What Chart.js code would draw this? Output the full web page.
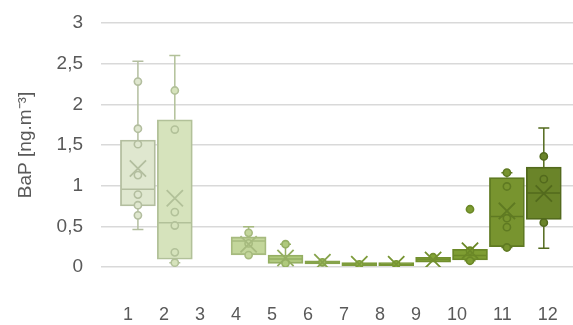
<!DOCTYPE html>
<html>
<head>
<meta charset="utf-8">
<script src="https://cdn.jsdelivr.net/npm/chart.js@4"></script>
<style>
  html, body { margin: 0; padding: 0; background: #fff; overflow: hidden; }
</style>
</head>
<body>
<!-- a bit wider than the window: the plot area runs off the right edge like in the original -->
<canvas id="boxChart" width="594" height="334"></canvas>
<script>
// series names (shown in the row under the plot)
const categories = ['1', '2', '3', '4', '5', '6', '7', '8', '9', '10', '11', '12'];

// box statistics (null = no data)
const q1 = [0.75, 0.095, null, 0.15, 0.045, 0.037, 0.012, 0.015, 0.058, 0.086, 0.25, 0.585];
const q3 = [1.56, 1.81, null, 0.37, 0.147, 0.077, 0.053, 0.055, 0.12, 0.217, 1.10, 1.23];
const median = [0.955, 0.545, null, 0.32, 0.098, 0.058, 0.033, 0.035, 0.09, 0.14, 0.62, 0.91];
const mean = [1.21, 0.845, null, 0.28, 0.11, 0.058, 0.033, 0.033, 0.086, 0.2, 0.69, 0.905];
const whiskerLow = [0.46, 0.053, null, 0.15, 0.045, 0.037, 0.012, 0.015, 0.058, 0.077, 0.24, 0.23];
const whiskerHigh = [2.53, 2.60, null, 0.495, 0.28, 0.077, 0.053, 0.055, 0.12, 0.217, 1.16, 1.71];

// inner points / outliers per series
const points = [
    [2.28, 1.70, 1.51, 1.13, 0.89, 0.76, 0.635],
    [2.17, 1.69, 0.675, 0.51, 0.18, 0.053],
    [],
    [0.42, 0.29, 0.147],
    [0.28, 0.045],
    [0.058],
    [0.033],
    [0.033],
    [0.12],
    [0.71, 0.2, 0.077],
    [1.16, 0.99, 0.60, 0.49, 0.24],
    [1.36, 1.08, 0.545]
];

const yTickLabels = ['0', '0,5', '1', '1,5', '2', '2,5', '3'];

const fills = ['#dfe7cf', '#d6e3bc', '#cddca9', '#c3d69b', '#afc97c', '#9dbc5e',
               '#92b349', '#89ab3c', '#83a436', '#7e9d32', '#78942f', '#6a8429'];
const borders = ['#b3be9f', '#b2c199', '#a9bb86', '#a6ba7e', '#95af63', '#86a34b',
                 '#7e9c3c', '#779533', '#728f2e', '#6b8827', '#5f7a22', '#536a1d'];

const txt = '#595959';
const fontFamily = '"Liberation Sans", Arial, sans-serif';

// series that actually have a box
const boxIdx = categories.map((c, i) => i).filter(i => q1[i] !== null);

const legendShift = -12;

// nudge the series-name row so it sits where the original has it
const legendNudge = {
    id: 'legendNudge',
    afterLayout(chart) {
        chart.legend.left += legendShift;
        chart.legend.right += legendShift;
    }
};

// whiskers under the boxes, median lines on top of them
const boxExtras = {
    id: 'boxExtras',
    beforeDatasetsDraw(chart) {
        const {ctx, scales: {x, y}} = chart;
        ctx.save();
        ctx.lineWidth = 1.5;
        boxIdx.forEach(i => {
            const px = x.getPixelForValue(i + 1);
            ctx.strokeStyle = borders[i];
            ctx.beginPath();
            if (whiskerHigh[i] > q3[i]) {
                const top = y.getPixelForValue(whiskerHigh[i]);
                ctx.moveTo(px, y.getPixelForValue(q3[i]));
                ctx.lineTo(px, top);
                ctx.moveTo(px - 5.5, top);
                ctx.lineTo(px + 5.5, top);
            }
            if (whiskerLow[i] < q1[i]) {
                const bot = y.getPixelForValue(whiskerLow[i]);
                ctx.moveTo(px, y.getPixelForValue(q1[i]));
                ctx.lineTo(px, bot);
                ctx.moveTo(px - 5.5, bot);
                ctx.lineTo(px + 5.5, bot);
            }
            ctx.stroke();
        });
        ctx.restore();
    },
    afterDatasetDraw(chart, args) {
        if (args.index !== 0) return;
        const {ctx, scales: {y}} = chart;
        const bars = chart.getDatasetMeta(0).data;
        ctx.save();
        ctx.lineWidth = 1.5;
        boxIdx.forEach((i, j) => {
            const bar = bars[j];
            const py = y.getPixelForValue(median[i]);
            ctx.strokeStyle = borders[i];
            ctx.beginPath();
            ctx.moveTo(bar.x - bar.width / 2 + 1, py);
            ctx.lineTo(bar.x + bar.width / 2 - 1, py);
            ctx.stroke();
        });
        ctx.restore();
    }
};

const pointData = [];
const pointFill = [];
const pointBorder = [];
points.forEach((vals, i) => {
    vals.forEach(v => {
        pointData.push({x: i + 1, y: v});
        pointFill.push(fills[i]);
        pointBorder.push(borders[i]);
    });
});

const ctx = document.getElementById('boxChart').getContext('2d');
const boxChart = new Chart(ctx, {
    type: 'bar',
    data: {
        datasets: [{
            label: 'boxes',
            data: boxIdx.map(i => ({x: i + 1, y: [q1[i], q3[i]]})),
            backgroundColor: boxIdx.map(i => fills[i]),
            borderColor: boxIdx.map(i => borders[i]),
            borderWidth: 1.8,
            borderSkipped: false,
            barThickness: 35,
            order: 3
        }, {
            type: 'line',
            label: 'points',
            data: pointData,
            showLine: false,
            pointStyle: 'circle',
            pointRadius: 3.6,
            pointBorderWidth: 1.6,
            pointBackgroundColor: pointFill,
            pointBorderColor: pointBorder,
            order: 2
        }, {
            type: 'line',
            label: 'mean',
            data: boxIdx.map(i => ({x: i + 1, y: mean[i]})),
            showLine: false,
            pointStyle: 'crossRot',
            pointRadius: 11.5,
            pointBorderWidth: 1.8,
            pointBorderColor: boxIdx.map(i => borders[i]),
            order: 1
        }]
    },
    options: {
        responsive: false,
        animation: false,
        layout: {
            padding: {top: 23, right: 0, bottom: 0, left: 0}
        },
        plugins: {
            tooltip: {enabled: false},
            legend: {
                display: true,
                position: 'bottom',
                fullSize: false,
                labels: {
                    boxWidth: 14,
                    boxHeight: 0,
                    padding: 3,
                    color: txt,
                    font: {family: fontFamily, size: 18},
                    generateLabels: () => categories.map((c, i) => ({
                        text: c,
                        fillStyle: 'rgba(0,0,0,0)',
                        strokeStyle: 'rgba(0,0,0,0)',
                        lineWidth: 0,
                        fontColor: txt,
                        datasetIndex: 0,
                        index: i
                    }))
                }
            }
        },
        scales: {
            x: {
                type: 'linear',
                min: 0,
                max: 13,
                offset: false,
                ticks: {display: false},
                grid: {drawOnChartArea: false, drawTicks: true, tickLength: 36, tickColor: 'rgba(0,0,0,0)'},
                border: {display: false}
            },
            y: {
                min: 0,
                max: 3,
                ticks: {
                    stepSize: 0.5,
                    padding: 4,
                    color: txt,
                    font: {family: fontFamily, size: 19},
                    callback: (v, idx) => yTickLabels[idx]
                },
                grid: {color: '#d9d9d9', lineWidth: 1.5, drawTicks: true, tickLength: 14, tickColor: 'rgba(0,0,0,0)'},
                border: {display: false},
                title: {
                    display: true,
                    text: 'BaP [ng.m\u207B\u00B3]',
                    color: txt,
                    font: {family: fontFamily, size: 19},
                    padding: {top: 14.6, bottom: 15.2}
                }
            }
        }
    },
    plugins: [boxExtras, legendNudge]
});
</script>
</body>
</html>
